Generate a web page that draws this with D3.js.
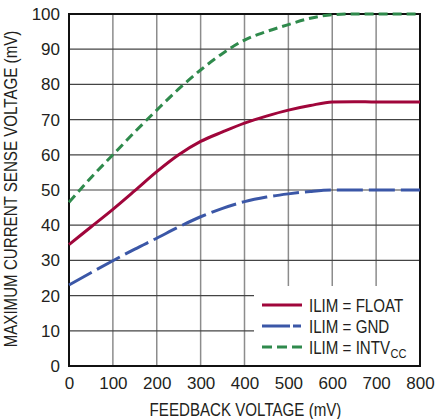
<!DOCTYPE html>
<html>
<head>
<meta charset="utf-8">
<script src="https://cdn.jsdelivr.net/npm/d3@7"></script>
<style>
  body { margin: 0; background: #fff; }
  text { font-family: 'Liberation Sans', Arial, sans-serif; fill: #231f20; }
</style>
</head>
<body>
<div id="graf"></div>
<script>
// feedback voltage (mV)
var xVals = [0, 50, 100, 150, 200, 250, 300, 350, 400, 450, 500, 550, 600, 650, 700, 750, 800]
// max current sense voltage (mV)
var floatVals = [34.5, 39.5, 44.5, 49.8, 55.2, 60, 63.8, 66.5, 69, 71, 72.7, 74, 75, 75.1, 75, 75, 75]
var gndVals   = [23, 26.5, 29.9, 33.2, 36.3, 39.5, 42.4, 44.8, 46.7, 48, 48.9, 49.6, 50, 50, 50, 50, 50]
var intvVals  = [46.5, 53.5, 60, 66.5, 72.7, 78.7, 84.1, 88.8, 92.6, 95, 97, 98.8, 99.8, 100, 100, 100, 100]

var xTicks = [0, 100, 200, 300, 400, 500, 600, 700, 800]
var yTicks = [0, 10, 20, 30, 40, 50, 60, 70, 80, 90, 100]

var legendNames = ['ILIM = FLOAT', 'ILIM = GND', 'ILIM = INTV']

var W = 436, H = 419
var mLeft = 69, mRight = 420, mTop = 14, mBottom = 366

var svg = d3.select('#graf').append('svg')
  .attr('width', W)
  .attr('height', H)

var x = d3.scaleLinear().domain([0, 800]).range([mLeft, mRight])
var y = d3.scaleLinear().domain([0, 100]).range([mBottom, mTop])

// squeeze text to look like the condensed font of the original
function narrow(sel, k) {
  var out = 0
  sel.each(function() {
    var w = this.getComputedTextLength()
    out = w * k
    d3.select(this).attr('textLength', out).attr('lengthAdjust', 'spacingAndGlyphs')
  })
  return out
}

// grid
svg.append('g')
  .selectAll('line')
  .data(xTicks.slice(1, -1))
  .join('line')
  .attr('x1', d => x(d)).attr('x2', d => x(d))
  .attr('y1', mTop).attr('y2', mBottom)
  .attr('stroke', '#8c8c8c')
  .attr('stroke-width', 1.5)

svg.append('g')
  .selectAll('line')
  .data(yTicks.slice(1, -1))
  .join('line')
  .attr('x1', mLeft).attr('x2', mRight)
  .attr('y1', d => y(d)).attr('y2', d => y(d))
  .attr('stroke', '#444')
  .attr('stroke-width', 1.2)

// legend box hides the grid
var lgX = 254, lgY = 286
svg.append('rect')
  .attr('x', lgX).attr('y', lgY)
  .attr('width', mRight - lgX).attr('height', mBottom - lgY)
  .attr('fill', '#fff')

// frame
svg.append('rect')
  .attr('x', mLeft).attr('y', mTop)
  .attr('width', mRight - mLeft).attr('height', mBottom - mTop)
  .attr('fill', 'none')
  .attr('stroke', '#111')
  .attr('stroke-width', 2)

// tick labels
var gx = svg.append('g')
  .attr('transform', 'translate(0,' + mBottom + ')')
  .call(d3.axisBottom(x).tickValues(xTicks).tickSize(0).tickPadding(11))
gx.select('.domain').remove()

var gy = svg.append('g')
  .attr('transform', 'translate(' + mLeft + ',0)')
  .call(d3.axisLeft(y).tickValues(yTicks).tickSize(0).tickPadding(9))
gy.select('.domain').remove()

svg.selectAll('.tick text')
  .attr('font-size', 17)
  .attr('fill', '#231f20')
svg.selectAll('g').attr('font-family', null).attr('font-size', null)

// axis titles
var xt = svg.append('text')
  .attr('x', (mLeft + mRight) / 2 + 1)
  .attr('y', 416)
  .attr('text-anchor', 'middle')
  .attr('font-size', 18)
  .text('FEEDBACK VOLTAGE (mV)')
narrow(xt, 0.84)

var yt = svg.append('text')
  .attr('transform', 'translate(17,189) rotate(-90)')
  .attr('text-anchor', 'middle')
  .attr('font-size', 18)
  .text('MAXIMUM CURRENT SENSE VOLTAGE (mV)')
narrow(yt, 0.84)

// curves
var series = [
  {vals: floatVals, color: '#a0063b', dash: null},
  {vals: gndVals, color: '#3b57a7', dash: '26,6'},
  {vals: intvVals, color: '#2f8a4c', dash: '9,5'}
]

var line = d3.line()
  .x((d, i) => x(xVals[i]))
  .y(d => y(d))
  .curve(d3.curveMonotoneX)

svg.append('g')
  .selectAll('path')
  .data(series)
  .join('path')
  .attr('d', d => line(d.vals))
  .attr('fill', 'none')
  .attr('stroke', d => d.color)
  .attr('stroke-width', 3)
  .attr('stroke-dasharray', d => d.dash)

// legend
var lg = svg.append('g')
series.forEach(function(s, i) {
  var yy = 305 + i * 21
  lg.append('line')
    .attr('x1', 262).attr('x2', 302)
    .attr('y1', yy).attr('y2', yy)
    .attr('stroke', s.color)
    .attr('stroke-width', 3)
    .attr('stroke-dasharray', i == 1 ? '28,3,8' : s.dash == null ? null : '10,5')
  var t = lg.append('text')
    .attr('x', 309)
    .attr('y', yy + 6.5)
    .attr('font-size', 18)
    .text(legendNames[i])
  var w = narrow(t, 0.84)
  if (i == 2) {
    lg.append('text')
      .attr('x', 309 + w + 0.5)
      .attr('y', yy + 10.5)
      .attr('font-size', 13)
      .attr('textLength', 16)
      .attr('lengthAdjust', 'spacingAndGlyphs')
      .text('CC')
  }
})
</script>
</body>
</html>
